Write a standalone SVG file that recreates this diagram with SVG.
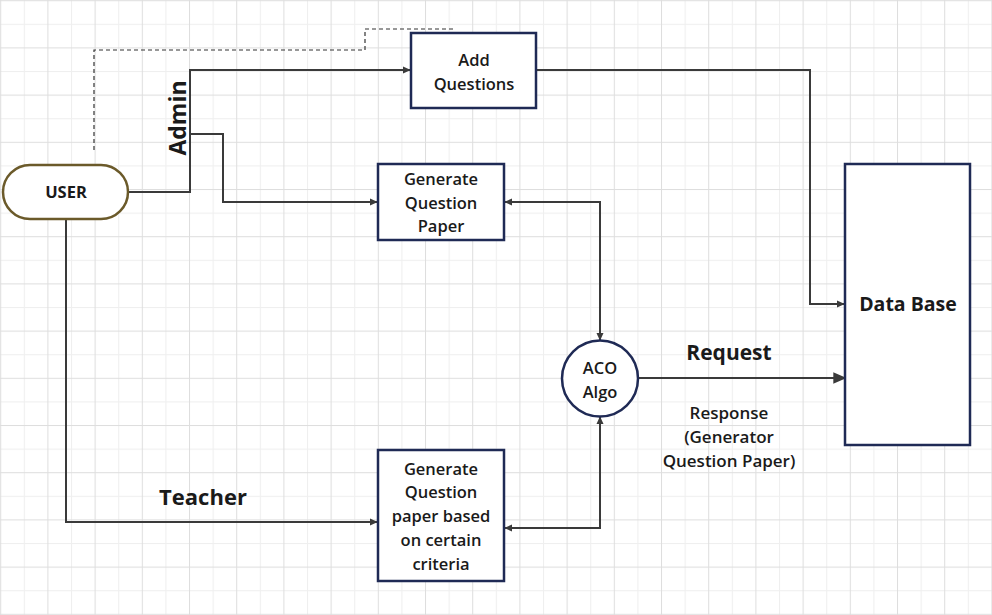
<svg xmlns="http://www.w3.org/2000/svg" width="992" height="615" viewBox="0 0 992 615">
<defs>
<pattern id="grid" patternUnits="userSpaceOnUse" x="0.2" y="0.2" width="47.2" height="47.2">
<rect x="0" y="0" width="47.2" height="47.2" fill="#ffffff"/>
<rect x="23.6" y="0" width="1" height="47.2" fill="#efefef"/>
<rect x="0" y="23.6" width="47.2" height="1" fill="#efefef"/>
<rect x="0" y="0" width="1" height="47.2" fill="#dedede"/>
<rect x="0" y="0" width="47.2" height="1" fill="#dedede"/>
</pattern>
<marker id="arr" viewBox="0 0 10 10" refX="9" refY="5" markerWidth="8" markerHeight="8" markerUnits="userSpaceOnUse" orient="auto-start-reverse">
<path d="M0,0.5 L10,5 L0,9.5 Z" fill="#3a3a3a"/>
</marker>
<marker id="arrBig" viewBox="0 0 10 10" refX="9" refY="5" markerWidth="13" markerHeight="13" markerUnits="userSpaceOnUse" orient="auto">
<path d="M0,0.5 L10,5 L0,9.5 Z" fill="#3a3a3a"/>
</marker>
</defs>
<style>
.edge{fill:none;stroke:#3a3a3a;stroke-width:2}
.dash{fill:none;stroke:#333333;stroke-width:1.2;stroke-dasharray:4 3}
.box{fill:#ffffff;stroke:#1f2a55;stroke-width:2.5}
.t{font-family:"Open Sans","Liberation Sans",sans-serif;font-weight:600;fill:#1a1a1a;text-anchor:middle}
.lbl{font-family:"Open Sans","Liberation Sans",sans-serif;font-weight:700;fill:#1a1a1a;text-anchor:middle}
</style>
<rect x="0" y="0" width="992" height="615" fill="url(#grid)"/>

<g id="connectors">
<path class="dash" d="M94,150 V50 H365 V29 H455"/>
<path class="edge" d="M128,192 H190 V70 H410" marker-end="url(#arr)"/>
<path class="edge" d="M190,134 H223 V202 H377" marker-end="url(#arr)"/>
<path class="edge" d="M536,70 H810 V304 H844" marker-end="url(#arr)"/>
<path class="edge" d="M505,202 H600 V340" marker-start="url(#arr)" marker-end="url(#arr)"/>
<path class="edge" d="M638,378 H845" marker-end="url(#arrBig)"/>
<path class="edge" d="M66,220 V522 H377" marker-end="url(#arr)"/>
<path class="edge" d="M505,528 H600 V417" marker-start="url(#arr)" marker-end="url(#arr)"/>
<text class="lbl" font-size="23" transform="translate(186,118) rotate(-90)">Admin</text>
<text class="lbl" font-size="22" x="203" y="505">Teacher</text>
<text class="lbl" font-size="21" x="729" y="360">Request</text>
<text class="t" font-size="17" x="729" y="419">Response</text>
<text class="t" font-size="17" x="729" y="443">(Generator</text>
<text class="t" font-size="17" x="729" y="467">Question Paper)</text>
</g>

<g id="user">
<rect x="3" y="165" width="125" height="54" rx="27" ry="27" fill="#ffffff" stroke="#6b5a2a" stroke-width="2.5"/>
<text class="lbl" font-size="16.5" x="66" y="198">USER</text>
</g>

<g id="add-questions">
<rect class="box" x="411" y="33" width="125" height="75"/>
<text class="t" font-size="16.5" x="474" y="66">Add</text>
<text class="t" font-size="16.5" x="474" y="90">Questions</text>
</g>

<g id="generate-question-paper">
<rect class="box" x="378" y="164" width="126" height="76"/>
<text class="t" font-size="16.5" x="441" y="185">Generate</text>
<text class="t" font-size="16.5" x="441" y="209">Question</text>
<text class="t" font-size="16.5" x="441" y="232">Paper</text>
</g>

<g id="generate-criteria">
<rect class="box" x="378" y="450" width="126" height="131"/>
<text class="t" font-size="16.5" x="441" y="475">Generate</text>
<text class="t" font-size="16.5" x="441" y="498">Question</text>
<text class="t" font-size="16.5" x="441" y="522">paper based</text>
<text class="t" font-size="16.5" x="441" y="546">on certain</text>
<text class="t" font-size="16.5" x="441" y="570">criteria</text>
</g>

<g id="aco-algo">
<circle cx="600" cy="378.5" r="38" fill="#ffffff" stroke="#1f2a55" stroke-width="2.5"/>
<text class="t" font-size="16.5" x="600" y="374">ACO</text>
<text class="t" font-size="16.5" x="600" y="398">Algo</text>
</g>

<g id="database">
<rect class="box" x="845" y="164" width="125" height="281"/>
<text class="lbl" font-size="19.5" x="908" y="311">Data Base</text>
</g>
</svg>
